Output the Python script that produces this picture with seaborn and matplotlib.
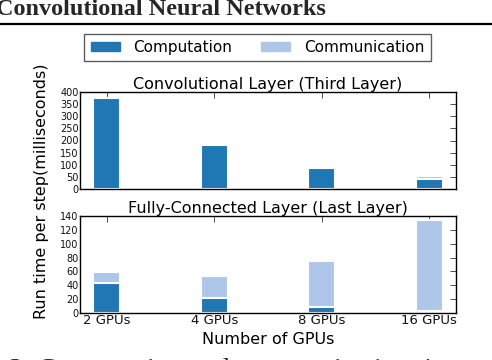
import matplotlib
matplotlib.use("Agg")
import matplotlib.pyplot as plt
import seaborn as sns
import pandas as pd
from matplotlib.patches import Patch

gpus = ["2 GPUs", "4 GPUs", "8 GPUs", "16 GPUs"]
conv_comp = [375, 181, 87, 41]
conv_comm = [0, 0, 0, 12]
fc_comp = [43, 21, 9, 3.5]
fc_comm = [16, 33, 66, 130.5]

dark = "#1f77b4"
light = "#aec7e8"

sns.set_theme(style="white")
plt.rcParams["font.family"] = ["DejaVu Sans"]

fig = plt.figure(figsize=(4.92, 3.6), dpi=100)
W, H = 492, 360

def axes_px(x0, x1, ytop, ybot):
    return fig.add_axes([x0 / W, 1 - ybot / H, (x1 - x0) / W, (ybot - ytop) / H])

ax1 = axes_px(80, 456, 92, 189)
ax2 = axes_px(80, 456, 216, 313)

def draw(ax, comp, comm, ymax, step, title):
    df = pd.DataFrame({"gpu": gpus, "comp": comp,
                       "total": [a + b for a, b in zip(comp, comm)]})
    sns.barplot(data=df, x="gpu", y="total", color=light, saturation=1,
                width=0.25, edgecolor="white", linewidth=1.5, ax=ax)
    sns.barplot(data=df, x="gpu", y="comp", color=dark, saturation=1,
                width=0.25, edgecolor="white", linewidth=1.5, ax=ax)
    ax.set_xlim(-0.25, 3.25)
    ax.set_ylim(0, ymax)
    ax.set_yticks(range(0, ymax + 1, step))
    ax.set_xlabel("")
    ax.set_ylabel("")
    ax.set_title(title, fontsize=11.5, pad=2, color="black")
    ax.tick_params(axis="both", direction="in", top=True, right=True,
                   length=4, width=0.6, color="#333333", labelcolor="#111111")
    ax.tick_params(axis="y", labelsize=7, pad=1)
    for s in ax.spines.values():
        s.set_color("black")
        s.set_linewidth(1)

draw(ax1, conv_comp, conv_comm, 400, 50, "Convolutional Layer (Third Layer)")
draw(ax2, fc_comp, fc_comm, 140, 20, "Fully-Connected Layer (Last Layer)")
ax1.set_xticklabels([])
ax2.tick_params(axis="x", labelsize=9.5, pad=1)

fig.text(42 / W, 1 - 191 / H, "Run time per step(milliseconds)", rotation=90,
         ha="center", va="center", fontsize=11.5, color="black")
fig.text(268 / W, 1 - 339 / H, "Number of GPUs", ha="center", va="center",
         fontsize=11.5, color="black")

handles = [Patch(facecolor=dark, edgecolor=dark), Patch(facecolor=light, edgecolor=light)]
leg = fig.legend(handles, ["Computation", "Communication"], ncol=2,
                 loc="center", bbox_to_anchor=(257.5 / W, 1 - 47.5 / H),
                 fontsize=11, frameon=True, fancybox=False, borderpad=0.4,
                 handlelength=1.9, handleheight=0.6, columnspacing=1.9,
                 handletextpad=0.9, borderaxespad=0)
leg.get_frame().set_edgecolor("#333333")
leg.get_frame().set_linewidth(1)
for t in leg.get_texts():
    t.set_color("black")

# surrounding paper text
fig.text(-4 / W, 1 - 15 / H, "Convolutional Neural Networks", ha="left",
         va="baseline", fontsize=17.5, fontweight="bold",
         family=["Liberation Serif"])
fig.add_artist(plt.Line2D([0, 1], [1 - 24 / H, 1 - 24 / H],
                          color="black", linewidth=1.6))
fig.text(9 / W, 1 - 377 / H, "3: Computation and communication time at",
         ha="left", va="baseline", fontsize=20, family=["Liberation Serif"])

fig.savefig("out.png", dpi=100)
